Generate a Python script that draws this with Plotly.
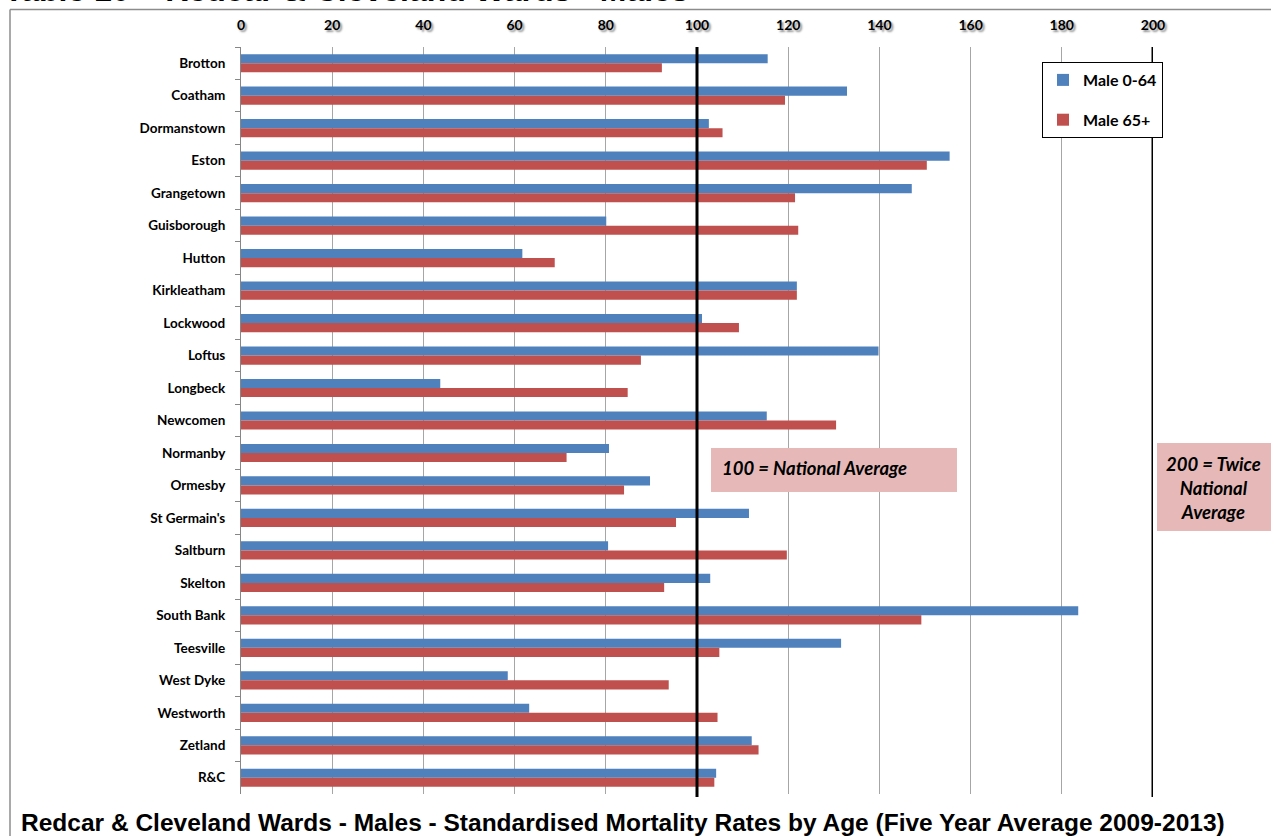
import plotly.graph_objects as go

# Ward names, top to bottom
wards = [
    "Brotton", "Coatham", "Dormanstown", "Eston", "Grangetown", "Guisborough",
    "Hutton", "Kirkleatham", "Lockwood", "Loftus", "Longbeck", "Newcomen",
    "Normanby", "Ormesby", "St Germain's", "Saltburn", "Skelton", "South Bank",
    "Teesville", "West Dyke", "Westworth", "Zetland", "R&C",
]

# Standardised mortality ratios (national average = 100)
male_0_64 = [
    115.5, 132.9, 102.6, 155.4, 147.1, 80.1,
    61.7, 121.9, 101.1, 139.8, 43.7, 115.3,
    80.7, 89.7, 111.4, 80.5, 102.9, 183.6,
    131.6, 58.5, 63.2, 112.0, 104.2,
]
male_65_plus = [
    92.3, 119.3, 105.6, 150.4, 121.5, 122.2,
    68.8, 121.9, 109.2, 87.7, 84.8, 130.5,
    71.4, 84.0, 95.4, 119.7, 92.8, 149.2,
    104.9, 93.8, 104.5, 113.5, 103.8,
]

series_names = ["Male 0-64", "Male 65+"]
series_colors = ["#4F81BD", "#C0504D"]
x_ticks = [0, 20, 40, 60, 80, 100, 120, 140, 160, 180, 200]
reference_lines = [100, 200]

W, H = 1271, 836
ML, MR, MT, MB = 241, 118, 47, 42
PW, PH = W - ML - MR, H - MT - MB


def px_x(px):
    """Horizontal pixel -> paper fraction."""
    return (px - ML) / PW


def px_y(py):
    """Vertical pixel (from top) -> paper fraction."""
    return (H - MB - py) / PH


LABEL_FONT = "Lato, 'Open Sans', sans-serif"
TITLE_FONT = "'Liberation Sans', Arial, sans-serif"

fig = go.Figure()
for name, vals, col in zip(series_names, [male_0_64, male_65_plus], series_colors):
    fig.add_trace(go.Bar(
        y=wards, x=vals, name=name, orientation="h",
        marker=dict(color=col, line=dict(width=0)),
        legendgroup=name,
    ))

shapes = []
# heavy reference lines at 100 and 200
for v in reference_lines:
    shapes.append(dict(type="line", xref="x", yref="paper", x0=v, x1=v,
                       y0=-0.004, y1=1, line=dict(color="black", width=3)))

# pink note boxes
pink = "#E6B9B8"
shapes.append(dict(type="rect", xref="paper", yref="paper",
                   x0=px_x(711), x1=px_x(957), y0=px_y(492), y1=px_y(448),
                   fillcolor=pink, line=dict(width=0), layer="above"))
shapes.append(dict(type="rect", xref="paper", yref="paper",
                   x0=px_x(1157), x1=px_x(1280), y0=px_y(531), y1=px_y(443),
                   fillcolor=pink, line=dict(width=0), layer="above"))

# chart-area border (top and left edges)
border = dict(color="#8C8C8C", width=1.5)
shapes.append(dict(type="line", xref="paper", yref="paper",
                   x0=px_x(10), x1=px_x(1280), y0=px_y(9.5), y1=px_y(9.5), line=border))
shapes.append(dict(type="line", xref="paper", yref="paper",
                   x0=px_x(10), x1=px_x(10), y0=px_y(9.5), y1=px_y(845), line=border))

note_font = dict(family=LABEL_FONT, size=18.5, color="black", style="italic", weight="bold")
annotations = [
    dict(text="100 = National Average", xref="paper", yref="paper",
         x=px_x(720), y=px_y(468), xanchor="left", yanchor="middle",
         showarrow=False, font=note_font),
    dict(text="200 = Twice<br>National<br>Average", xref="paper", yref="paper",
         x=px_x(1213), y=px_y(488), xanchor="center", yanchor="middle",
         showarrow=False, align="center", font=note_font),
    dict(text="Redcar & Cleveland Wards - Males - Standardised Mortality Rates by Age (Five Year Average 2009-2013)",
         xref="paper", yref="paper", x=px_x(623), y=px_y(822),
         xanchor="center", yanchor="middle", showarrow=False,
         font=dict(family=TITLE_FONT, size=24.5, color="black", weight="bold")),
    dict(text="Table 10 \u2013 Redcar & Cleveland Wards - Males",
         xref="paper", yref="paper", x=px_x(2), y=px_y(10),
         xanchor="left", yanchor="bottom", showarrow=False,
         font=dict(family=TITLE_FONT, size=32, color="black", weight="bold")),
]

fig.update_layout(
    width=W, height=H,
    margin=dict(l=ML, r=MR, t=MT, b=MB, pad=0),
    paper_bgcolor="white", plot_bgcolor="white",
    barmode="group", bargap=0.44, bargroupgap=0,
    shapes=shapes, annotations=annotations,
    legend=dict(
        x=px_x(1042), y=px_y(62), xanchor="left", yanchor="top",
        xref="paper", yref="paper",
        bgcolor="white", bordercolor="black", borderwidth=1,
        font=dict(family=LABEL_FONT, size=16, color="black", weight="bold"),
        traceorder="grouped", tracegroupgap=16,
        itemsizing="constant", itemwidth=30,
    ),
    xaxis=dict(
        side="top", range=[0, 200], tickvals=x_ticks,
        showgrid=True, gridcolor="#A6A6A6", gridwidth=1,
        zeroline=False, showline=False, ticks="",
        ticklabelstandoff=13,
        tickfont=dict(family=LABEL_FONT, size=14, color="black", weight="bold",
                      shadow="2px 2px 2px rgba(0,0,0,0.45)"),
    ),
    yaxis=dict(
        autorange="reversed", categoryorder="array", categoryarray=wards,
        showline=True, linecolor="#868686", linewidth=1,
        ticks="outside", tickson="boundaries", ticklen=5, tickcolor="#868686",
        showgrid=False, zeroline=False, ticklabelstandoff=12,
        tickfont=dict(family=LABEL_FONT, size=13.5, color="black", weight="bold"),
    ),
)

fig.write_html("out.html")
